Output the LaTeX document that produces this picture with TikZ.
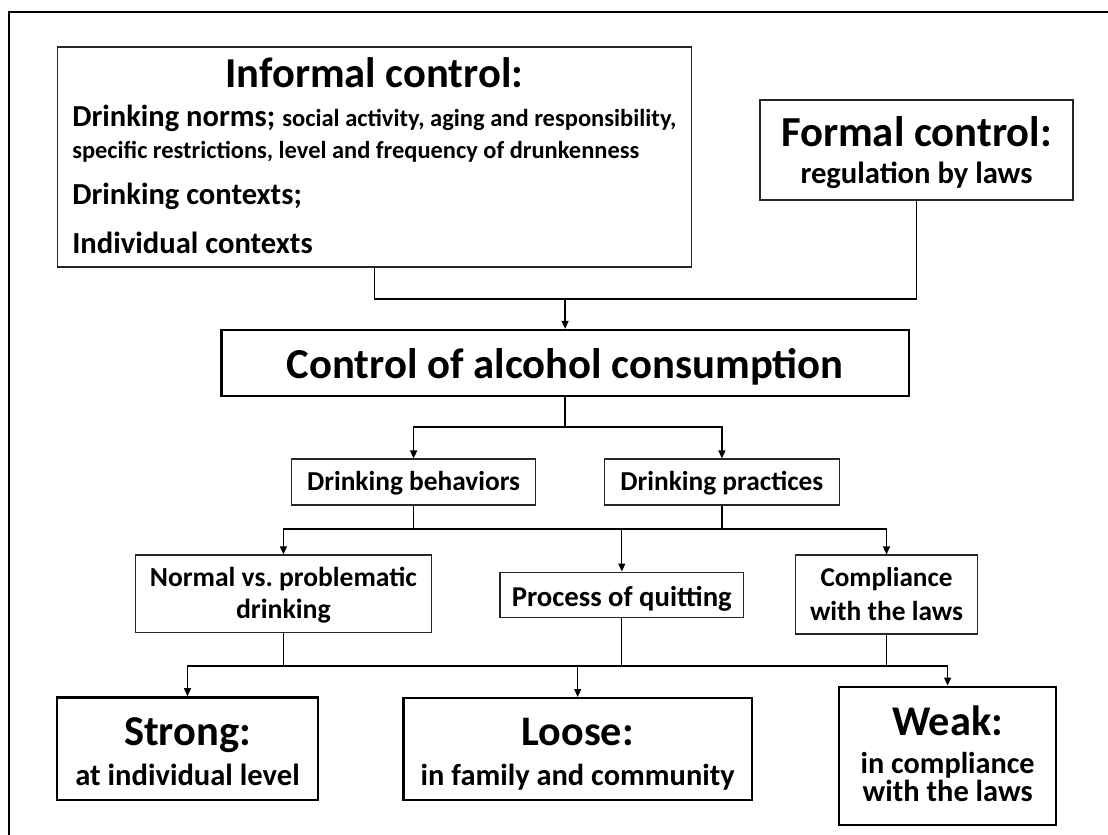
\documentclass[tikz,border=0pt]{standalone}
\usepackage{fontspec}
\setmainfont{Carlito}
\usetikzlibrary{arrows.meta}

% set #2 at the font size that makes it #1 pt wide
\newlength\fitlen
\newcommand\fitw[2]{{%
  \setbox0\hbox{\fontsize{10pt}{10pt}\selectfont #2}%
  \fitlen=\wd0
  \pgfmathsetmacro\fitsz{#1/\fitlen*10}%
  \fontsize{\fitsz pt}{\fitsz pt}\selectfont #2}}

% stacked lines with explicit baseline-to-baseline gaps
\newcommand\gap[1]{\cr\noalign{\vskip#1}}
\newcommand\centredlines[1]{\vbox{\baselineskip=0pt\lineskip=0pt\lineskiplimit=-\maxdimen
  \halign{\hfil##\hfil\cr#1\crcr}}}
\newcommand\leftlines[1]{\vbox{\baselineskip=0pt\lineskip=0pt\lineskiplimit=-\maxdimen
  \halign{##\hfil\cr#1\crcr}}}

\begin{document}
\begin{tikzpicture}[x=1pt,y=-1pt,font=\bfseries,
  thinbox/.style={draw=black!85, line width=1.1pt, inner sep=0pt, text depth=0pt},
  heavybox/.style={thinbox, draw=black, line width=2.3pt},
  conn/.style={line width=1.3pt},
  arr/.style={conn, -{Triangle[length=8pt,width=7pt]}},
  frame/.style={line width=2.4pt}]

\useasboundingbox (0,0) rectangle (1108,835);

% outer frame
\draw[frame] (8.9,840) -- (8.9,12) -- (1112,12);

% sources of control
\node[thinbox, minimum width=634pt, minimum height=220pt, text height=192pt] (informal) at (374.3,157)
  {\leftlines{\omit\hfil\fitw{298}{Informal control:}\hfil\gap{39pt}
    \fitw{203}{Drinking norms;}\hskip7pt\fitw{394}{social activity, aging and responsibility,}\gap{32pt}
    \fitw{567}{specific restrictions, level and frequency of drunkenness}\gap{46pt}
    \fitw{229.6}{Drinking contexts;}\gap{49pt}
    \fitw{240.3}{Individual contexts}}};

\node[thinbox, minimum width=313pt, minimum height=100pt, text height=66pt] (formal) at (916.5,150)
  {\centredlines{\fitw{271}{Formal control:}\gap{37pt}\fitw{232}{regulation by laws}}};

% central box
\node[heavybox, minimum width=687.4pt, minimum height=66pt, text height=30pt] (control) at (565.1,363)
  {\fitw{557}{Control of alcohol consumption}};

% second level
\node[thinbox, minimum width=243.6pt, minimum height=46pt, text height=16pt] (behaviors) at (413.6,482)
  {\fitw{213}{Drinking behaviors}};
\node[thinbox, minimum width=234.7pt, minimum height=46pt, text height=16pt] (practices) at (721.9,482)
  {\fitw{203}{Drinking practices}};

% third level
\node[thinbox, minimum width=295.4pt, minimum height=77.7pt, text height=48.4pt] (normal) at (283.4,593.8)
  {\centredlines{\fitw{267}{Normal vs.\ problematic}\gap{32pt}\fitw{94.7}{drinking}}};
\node[thinbox, minimum width=243.6pt, minimum height=45.3pt, text height=24pt] (process) at (621.8,594.7)
  {\fitw{220}{Process of quitting}};
\node[thinbox, minimum width=182.2pt, minimum height=79pt, text height=51pt] (compliance) at (886.5,594.5)
  {\centredlines{\fitw{132}{Compliance}\gap{33.3pt}\fitw{153}{with the laws}}};

% outcomes
\node[heavybox, minimum width=260.8pt, minimum height=102.7pt, text height=72.6pt] (strong) at (187.5,748.7)
  {\centredlines{\fitw{127}{Strong:}\gap{40pt}\fitw{224.3}{at individual level}}};
\node[heavybox, minimum width=348.3pt, minimum height=101.7pt, text height=72pt] (loose) at (577.7,749)
  {\centredlines{\fitw{112}{Loose:}\gap{40pt}\fitw{314}{in family and community}}};
\node[heavybox, minimum width=217.4pt, minimum height=138.3pt, text height=91.8pt] (weak) at (947.6,755.8)
  {\centredlines{\fitw{111}{Weak:}\gap{38.3pt}\fitw{174}{in compliance}\gap{28.4pt}\fitw{170}{with the laws}}};

% junction points
\coordinate (merge) at (control.north |- 0,299);
\coordinate (split) at (control.south |- 0,427);
\coordinate (busA) at (behaviors.south |- 0,529);
\coordinate (busB) at (practices.south |- 0,529);
\coordinate (busC) at (normal.south |- 0,666);
\coordinate (busD) at (compliance.south |- 0,666);

% informal + formal -> control
\draw[conn] (informal.south) |- (merge) -| (formal.south);
\draw[arr] (merge) -- (control.north);

% control -> behaviors, practices
\draw[conn] (control.south) -- (split);
\draw[arr] (split) -| (behaviors.north);
\draw[arr] (split) -| (practices.north);

% behaviors, practices -> third level
\draw[conn] (behaviors.south) -- (busA) -- (busB) -- (practices.south);
\draw[arr] (busA) -| (normal.north);
\draw[arr] (busB) -| (compliance.north);
\draw[arr] (process.north |- busB) -- (process.north);

% third level -> outcomes
\draw[conn] (normal.south) -- (busC) -- (busD) -- (compliance.south);
\draw[conn] (process.south) -- (process.south |- busC);
\draw[arr] (busC) -| (strong.north);
\draw[arr] (busD) -| (weak.north);
\draw[arr] (loose.north |- busC) -- (loose.north);
\end{tikzpicture}
\end{document}
